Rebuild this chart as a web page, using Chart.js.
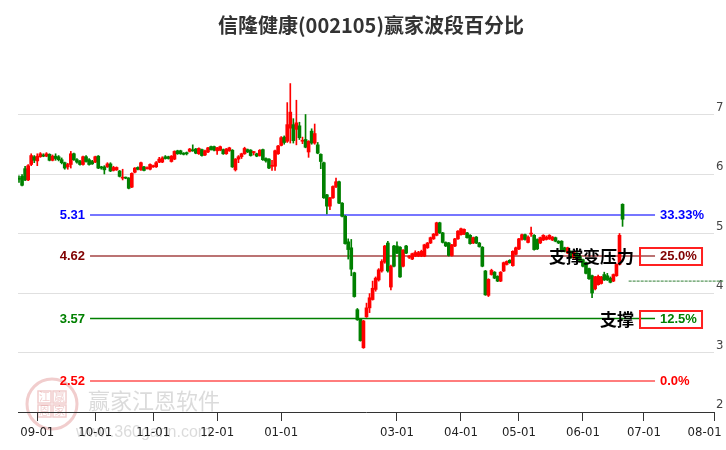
<!DOCTYPE html>
<html><head><meta charset="utf-8">
<script src="https://cdn.jsdelivr.net/npm/chart.js@4/dist/chart.umd.min.js"></script>
<style>html,body{margin:0;padding:0;background:#fff;overflow:hidden}#wrap{width:726px;height:450px}</style>
</head><body><div id="wrap"><canvas id="c" width="726" height="450"></canvas></div>
<script>
const titleText = '信隆健康(002105)赢家波段百分比';
// daily candles (trading-day index 0..198)
const opens = [5.93,5.96,6.09,5.90,6.16,6.29,6.22,6.29,6.32,6.30,6.33,6.23,6.30,6.29,6.24,6.19,6.12,6.16,6.34,6.24,6.21,6.16,6.29,6.24,6.21,6.20,6.30,6.12,6.12,6.12,6.17,6.06,6.07,6.05,5.93,5.94,5.93,5.78,6.03,6.11,6.07,6.12,6.09,6.08,6.12,6.12,6.20,6.20,6.29,6.29,6.21,6.25,6.39,6.39,6.35,6.36,6.38,6.40,6.42,6.34,6.41,6.32,6.37,6.46,6.46,6.39,6.40,6.41,6.34,6.39,6.40,6.07,6.25,6.29,6.34,6.41,6.40,6.36,6.34,6.31,6.41,6.26,6.25,6.13,6.13,6.34,6.48,6.62,6.55,6.77,6.83,6.75,6.81,6.55,6.58,6.37,6.72,6.52,6.49,6.33,6.19,5.65,5.46,5.60,5.79,5.87,5.51,5.29,4.86,4.76,4.34,3.72,3.56,3.08,3.60,3.75,3.89,4.06,4.22,4.37,4.52,4.84,4.10,4.79,4.79,4.77,4.45,4.79,4.60,4.57,4.62,4.62,4.62,4.62,4.76,4.84,4.91,4.97,5.18,5.01,4.85,4.84,4.63,4.79,4.91,4.98,4.99,5.01,4.97,4.84,4.94,4.84,4.77,4.37,3.96,4.31,4.35,4.28,4.20,4.37,4.48,4.55,4.46,4.65,4.74,4.90,4.98,4.85,4.99,4.97,4.90,4.84,4.89,4.90,4.91,4.89,4.93,4.87,4.87,4.76,4.67,4.70,4.59,4.67,4.62,4.56,4.51,4.41,4.29,4.07,4.14,4.16,4.31,4.29,4.25,4.20,4.29,4.48,5.49];
const highs = [5.97,5.99,6.13,6.16,6.34,6.31,6.34,6.36,6.34,6.36,6.34,6.32,6.34,6.31,6.27,6.20,6.18,6.38,6.35,6.26,6.23,6.30,6.31,6.26,6.23,6.30,6.31,6.13,6.14,6.19,6.19,6.13,6.12,6.06,6.08,5.95,5.94,6.02,6.11,6.12,6.20,6.13,6.12,6.17,6.15,6.21,6.28,6.29,6.31,6.30,6.31,6.39,6.40,6.40,6.36,6.37,6.43,6.49,6.43,6.44,6.42,6.40,6.45,6.47,6.47,6.45,6.47,6.42,6.43,6.45,6.41,6.26,6.31,6.35,6.45,6.42,6.41,6.38,6.35,6.41,6.42,6.27,6.26,6.23,6.40,6.48,6.63,6.64,7.20,7.52,6.93,7.24,6.87,6.62,7.00,6.56,6.76,6.84,6.53,6.34,6.20,5.66,5.61,5.80,5.93,5.88,5.52,5.30,4.91,4.90,4.35,3.74,3.57,3.54,3.83,3.99,4.20,4.27,4.41,4.56,4.80,4.87,4.47,4.80,4.86,4.78,4.73,4.80,4.63,4.67,4.71,4.70,4.72,4.82,4.85,4.94,5.00,5.19,5.19,5.02,4.86,4.85,4.82,4.92,5.05,5.09,5.08,5.02,4.98,4.94,4.95,4.85,4.78,4.38,4.24,4.40,4.36,4.29,4.36,4.52,4.54,4.56,4.71,4.77,4.92,4.99,4.99,4.96,5.11,4.98,4.91,4.94,4.98,4.96,4.98,4.95,4.94,4.88,4.88,4.77,4.77,4.71,4.70,4.68,4.63,4.57,4.52,4.42,4.30,4.28,4.30,4.28,4.35,4.33,4.27,4.32,4.49,5.00,5.50];
const lows = [5.86,5.80,5.89,5.89,6.14,6.19,6.14,6.28,6.29,6.29,6.22,6.22,6.23,6.22,6.17,6.08,6.08,6.10,6.23,6.18,6.15,6.15,6.20,6.15,6.16,6.19,6.09,6.08,6.00,6.11,6.04,6.05,6.06,5.95,5.90,5.92,5.75,5.77,6.02,6.07,6.06,6.05,6.08,6.07,6.11,6.11,6.19,6.19,6.25,6.25,6.20,6.24,6.33,6.33,6.32,6.32,6.37,6.38,6.34,6.33,6.30,6.31,6.36,6.40,6.39,6.33,6.39,6.33,6.33,6.38,6.11,6.05,6.19,6.26,6.33,6.36,6.30,6.32,6.29,6.30,6.23,6.20,6.09,6.06,6.06,6.33,6.47,6.50,6.53,6.52,6.52,6.49,6.58,6.51,6.44,6.28,6.50,6.50,6.34,6.09,5.59,5.33,5.40,5.59,5.77,5.50,5.28,4.82,4.57,4.29,3.93,3.54,3.19,3.07,3.59,3.67,3.88,4.03,4.20,4.35,4.50,4.35,4.05,4.44,4.66,4.26,4.44,4.66,4.58,4.56,4.61,4.61,4.61,4.61,4.75,4.83,4.90,4.96,5.00,4.84,4.78,4.62,4.62,4.78,4.90,4.97,4.98,4.92,4.82,4.83,4.83,4.77,4.44,3.96,3.94,4.30,4.24,4.19,4.19,4.36,4.47,4.50,4.45,4.64,4.73,4.89,4.89,4.84,4.95,4.72,4.73,4.83,4.88,4.89,4.90,4.88,4.86,4.83,4.69,4.69,4.66,4.58,4.58,4.55,4.52,4.44,4.32,4.23,3.92,4.05,4.13,4.15,4.21,4.21,4.17,4.19,4.28,4.47,5.12];
const closes = [5.91,5.81,5.90,6.14,6.31,6.23,6.30,6.34,6.30,6.34,6.23,6.30,6.26,6.24,6.19,6.10,6.16,6.34,6.24,6.20,6.16,6.29,6.21,6.16,6.17,6.29,6.10,6.10,6.07,6.17,6.05,6.11,6.11,5.96,5.94,5.93,5.76,6.01,6.10,6.08,6.19,6.06,6.10,6.16,6.14,6.19,6.25,6.27,6.26,6.26,6.30,6.38,6.34,6.34,6.33,6.34,6.42,6.39,6.35,6.43,6.31,6.39,6.44,6.41,6.40,6.44,6.46,6.34,6.42,6.44,6.12,6.25,6.29,6.34,6.43,6.37,6.31,6.37,6.30,6.40,6.24,6.22,6.10,6.14,6.39,6.47,6.61,6.53,6.83,7.04,6.56,6.86,6.61,6.56,6.45,6.55,6.52,6.68,6.35,6.21,5.60,5.46,5.60,5.79,5.87,5.51,5.29,4.83,4.73,4.40,3.94,3.55,3.20,3.53,3.75,3.92,4.08,4.25,4.39,4.53,4.79,4.37,4.45,4.45,4.67,4.27,4.72,4.67,4.61,4.66,4.68,4.68,4.70,4.81,4.84,4.93,4.99,5.18,5.01,4.85,4.79,4.63,4.81,4.91,5.04,5.08,5.07,4.93,4.83,4.93,4.84,4.78,4.45,3.97,4.23,4.38,4.25,4.20,4.35,4.51,4.53,4.51,4.70,4.76,4.91,4.98,4.90,4.94,5.00,4.73,4.74,4.93,4.97,4.94,4.97,4.94,4.87,4.84,4.70,4.70,4.76,4.59,4.69,4.56,4.53,4.45,4.33,4.24,4.00,4.27,4.28,4.27,4.22,4.22,4.18,4.31,4.48,4.97,5.24];
// x-axis month ticks (trading-day index) and labels
const monthIdx = [6,25,44,65,86,124,145,164,185,205,228];
const monthLabels = ['09-01','10-01','11-01','12-01','01-01','03-01','04-01','05-01','06-01','07-01','08-01'];
const yTicks = [2,3,4,5,6,7];
// wave levels
const levelValues = [5.31,4.62,3.57,2.52];
const levelPercents = ['33.33%','25.0%','12.5%','0.0%'];
const levelNotes = ['','支撑变压力','支撑',''];
const boxedLevels = [false,true,true,false];
const refLineValue = 4.20;

// ---- styling / layout ----
const LV_START = 23.3, LV_END = 208.65;
const levelLineColors = ['rgba(60,60,255,0.7)','rgba(150,40,40,0.65)','#008000','rgba(255,70,70,0.7)'];
const levelLineWidths = [2,2,1.5,2];
const levelTextColors = ['#0000ff','#800000','#008000','#ff0000'];
function hasFont(name){const c=document.createElement('canvas').getContext('2d');c.font='40px monospace';const a=c.measureText('09-01 abcWM').width;c.font='40px "'+name+'", monospace';return c.measureText('09-01 abcWM').width!==a;}
const axisFont = hasFont('Liberation Sans Narrow') ? {family:'"Liberation Sans Narrow"', size:15} : {family:'"DejaVu Sans Condensed"', size:13};

const colorOf = i => closes[i] >= opens[i] ? '#ff0000' : '#008000';
const candleColors = opens.map((_, i) => colorOf(i));

const datasets = [
  {type:'bar', label:'body', data: opens.map((o,i)=>({x:i, y:[o, closes[i]]})), backgroundColor: candleColors, barThickness:3, grouped:false, minBarLength:1, borderWidth:0, order:1},
  {type:'bar', label:'wick', data: lows.map((l,i)=>({x:i, y:[l, highs[i]]})), backgroundColor: candleColors, barThickness:1, grouped:false, borderWidth:0, order:2}
];
levelValues.forEach((v,k)=>{
  datasets.push({type:'line', label:'lv'+k, data:[{x:LV_START,y:v},{x:LV_END,y:v}], borderColor: levelLineColors[k], borderWidth: levelLineWidths[k], pointRadius:0, order:3+k});
});
datasets.push({type:'line', label:'ref', data:[{x:200,y:refLineValue},{x:231,y:refLineValue}], borderColor:'#2e7d32', borderWidth:1, borderDash:[3,1], pointRadius:0, clip:false, order:8});

const decor = {
  id:'decor',
  beforeDraw(chart){
    const ctx = chart.ctx;
    ctx.save();
    ctx.fillStyle = '#fff'; ctx.fillRect(0,0,chart.width,chart.height);
    // watermark logo
    ctx.globalAlpha = 0.3;
    ctx.strokeStyle = '#d05a5a'; ctx.lineWidth = 3;
    ctx.beginPath(); ctx.arc(52,404,25,0,Math.PI*2); ctx.stroke();
    ctx.lineWidth = 1.5;
    ctx.strokeRect(38,391,13,12); ctx.strokeRect(53,391,13,12); ctx.strokeRect(38,405,13,12); ctx.strokeRect(53,405,13,12);
    ctx.fillStyle = '#d05a5a'; ctx.font = '11px "Noto Sans CJK SC"'; ctx.textAlign='center'; ctx.textBaseline='middle';
    ctx.fillText('江',44.5,397); ctx.fillText('赢',59.5,397); ctx.fillText('恩',44.5,411); ctx.fillText('家',59.5,411);
    ctx.globalAlpha = 0.35;
    ctx.fillStyle = '#999'; ctx.textAlign='left';
    ctx.font = '22px "Noto Sans CJK SC"';
    ctx.fillText('赢家江恩软件', 88, 401);
    ctx.font = '16px "Liberation Sans", Arial, sans-serif';
    ctx.fillText('www.360gann.com', 76, 433);
    ctx.globalAlpha = 1;
    // title
    ctx.fillStyle = '#333'; ctx.textAlign = 'center'; ctx.textBaseline = 'middle';
    ctx.font = 'bold 20px "Noto Sans CJK SC"';
    ctx.fillText(titleText, 371, 25);
    ctx.restore();
  },
  afterDraw(chart){
    const ctx = chart.ctx, xs = chart.scales.x, ys = chart.scales.y;
    ctx.save();
    const xL = xs.getPixelForValue(LV_START), xR = xs.getPixelForValue(LV_END);
    levelValues.forEach((v,k)=>{
      const y = Math.round(ys.getPixelForValue(v));
      ctx.textBaseline = 'middle';
      ctx.font = 'bold 13px "Liberation Sans", Arial, sans-serif';
      ctx.fillStyle = levelTextColors[k];
      ctx.textAlign = 'right';
      ctx.fillText(v.toFixed(2), xL - 5, y);
      ctx.textAlign = 'left';
      ctx.fillText(levelPercents[k], xR + 5, y);
      if (boxedLevels[k]) {
        ctx.strokeStyle = '#ff2020'; ctx.lineWidth = 2;
        ctx.strokeRect(xR - 15, y - 8, 62, 17);
      }
      if (levelNotes[k]) {
        ctx.fillStyle = '#000';
        ctx.font = 'bold 17px "Noto Sans CJK SC"';
        ctx.textAlign = 'right';
        ctx.fillText(levelNotes[k], xR - 21, y + 1);
      }
    });
    ctx.restore();
  }
};

new Chart(document.getElementById('c'), {
  type:'bar',
  data:{datasets},
  options:{
    responsive:false, animation:false, devicePixelRatio:1,
    layout:{padding:{left:18, top:55, right:0, bottom:0}},
    plugins:{legend:{display:false}, title:{display:false}, tooltip:{enabled:false}},
    scales:{
      x:{type:'linear', offset:false, min:-0.33, max:228,
        afterBuildTicks:s=>{ s.ticks = monthIdx.map(v=>({value:v})); },
        afterFit:s=>{ s.height = 38; s.paddingLeft = 0; s.paddingRight = 0; },
        grid:{offset:false, drawOnChartArea:false, drawTicks:true, tickLength:9, tickColor:'#333', lineWidth:1},
        border:{display:true, color:'#333', width:1},
        ticks:{autoSkip:false, maxRotation:0, minRotation:0, padding:4, color:'#222', font:axisFont,
          callback:(v,i)=> i === monthLabels.length - 1 ? monthLabels[i] + '\u3000\u2002' : monthLabels[i]}
      },
      y:{type:'linear', position:'right', min:2, max:8,
        afterBuildTicks:s=>{ s.ticks = yTicks.map(v=>({value:v})); },
        afterFit:s=>{ s.width = 12; s.paddingTop = 0; s.paddingBottom = 0; },
        grid:{color:'#e0e0e0', lineWidth:1, drawTicks:false},
        border:{display:false},
        ticks:{padding:2, labelOffset:-7, color:'#444', font:axisFont, callback:v=>String(v)}
      }
    }
  },
  plugins:[decor]
});
</script>
</body></html>
